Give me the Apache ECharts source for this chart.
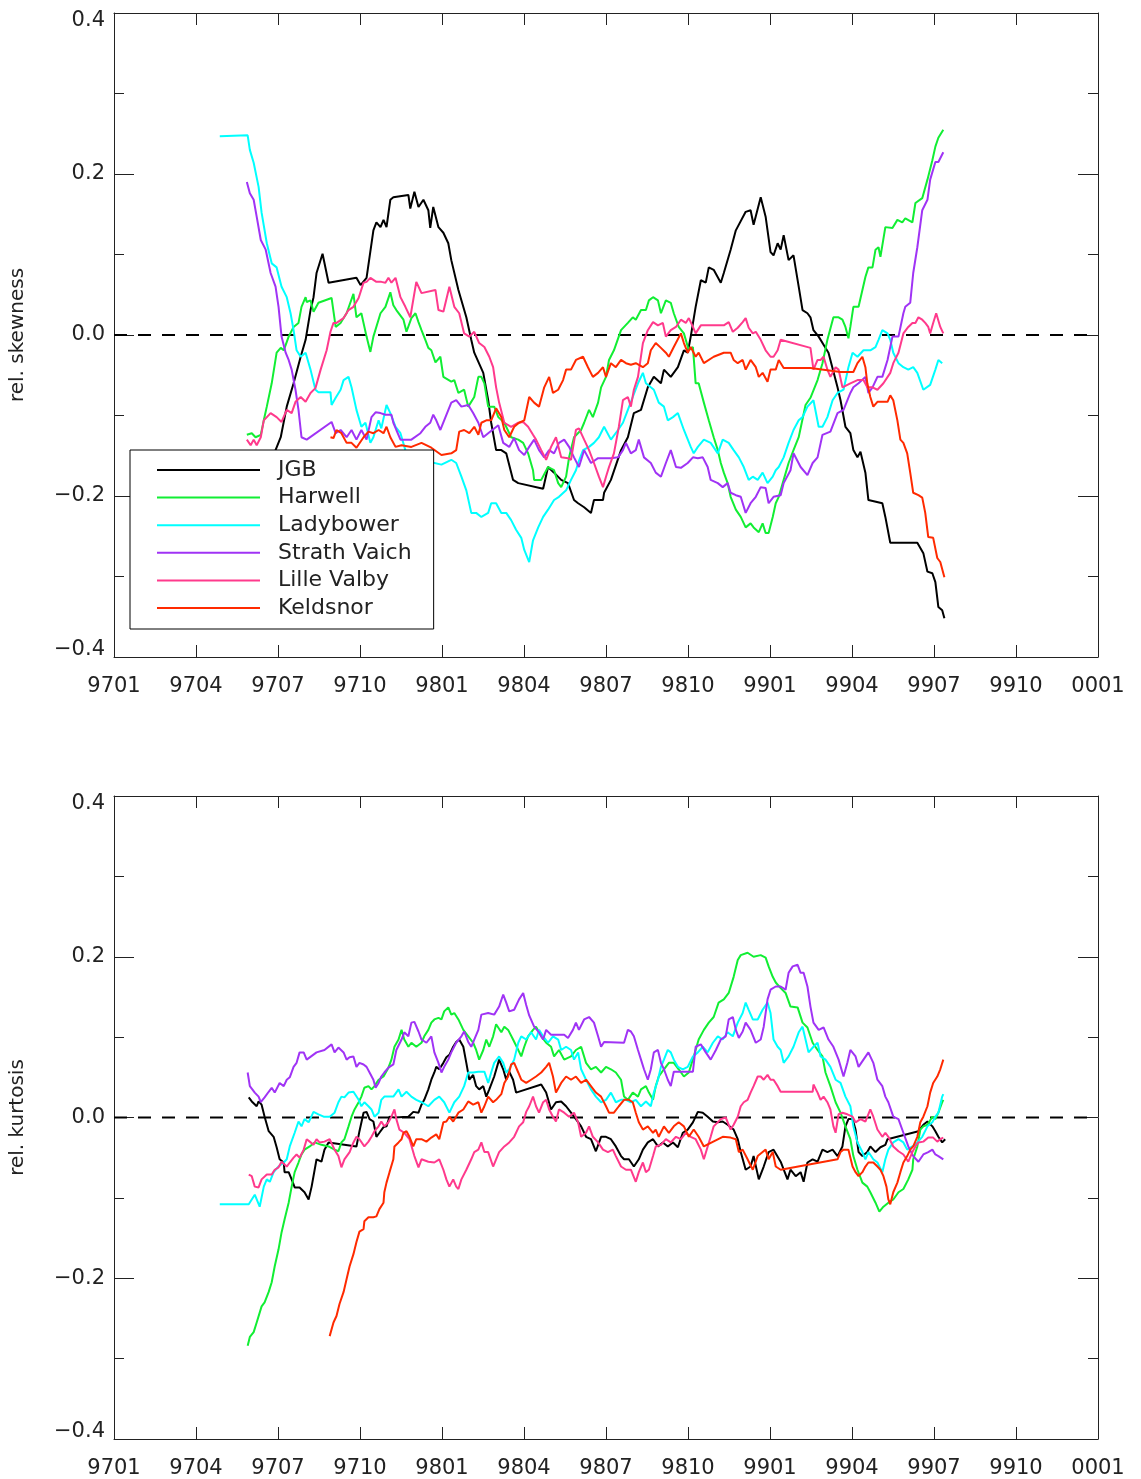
<!DOCTYPE html>
<html>
<head>
<meta charset="utf-8">
<script src="https://cdn.jsdelivr.net/npm/echarts@6/dist/echarts.min.js"></script>
<style>
html,body{margin:0;padding:0;background:#fff;}
#chart{width:1141px;height:1479px;}
</style>
</head>
<body>
<div id="chart"></div>
<script>
// ---- tick labels / names ----
const xTickLabels = ['9701','9704','9707','9710','9801','9804','9807','9810','9901','9904','9907','9910','0001'];
const seriesNames = ['JGB','Harwell','Ladybower','Strath Vaich','Lille Valby','Keldsnor'];
const seriesColors = ['#000000','#11ee33','#00ffff','#a033f5','#ff3a8c','#ff2a00'];

// ---- data: [months since 9701, value] ----
// top panel: relative skewness
const skewJGB = [[4.89,-0.20],[5.25,-0.215],[5.6,-0.185],[5.91,-0.143],[6.10,-0.127],[6.32,-0.089],[6.57,-0.060],[6.83,-0.027],[7.01,-0.006],[7.19,0.031],[7.30,0.047],[7.41,0.077],[7.63,0.101],[7.85,0.065],[8.87,0.071],[9.02,0.062],[9.24,0.071],[9.49,0.130],[9.60,0.140],[9.75,0.134],[9.86,0.143],[9.97,0.134],[10.11,0.168],[10.22,0.171],[10.77,0.174],[10.84,0.157],[10.99,0.178],[11.14,0.159],[11.32,0.168],[11.50,0.155],[11.57,0.133],[11.68,0.159],[11.87,0.134],[12.05,0.127],[12.23,0.114],[12.34,0.093],[12.60,0.056],[12.89,0.022],[13.07,-0.006],[13.18,-0.022],[13.51,-0.047],[13.69,-0.081],[13.80,-0.109],[13.98,-0.143],[14.17,-0.143],[14.35,-0.147],[14.60,-0.180],[14.79,-0.184],[15.70,-0.191],[15.88,-0.164],[16.10,-0.171],[16.36,-0.180],[16.61,-0.184],[16.83,-0.205],[16.98,-0.209],[17.20,-0.214],[17.45,-0.221],[17.56,-0.205],[17.89,-0.205],[17.93,-0.196],[18.18,-0.180],[18.55,-0.143],[18.80,-0.127],[19.02,-0.097],[19.28,-0.093],[19.53,-0.065],[19.75,-0.052],[20.01,-0.060],[20.12,-0.043],[20.37,-0.052],[20.63,-0.040],[20.85,-0.019],[20.99,-0.022],[21.10,-0.002],[21.28,0.035],[21.47,0.068],[21.65,0.065],[21.76,0.084],[21.94,0.081],[22.20,0.065],[22.31,0.077],[22.56,0.106],[22.75,0.130],[23.11,0.153],[23.29,0.155],[23.40,0.137],[23.66,0.171],[23.84,0.147],[24.02,0.103],[24.13,0.099],[24.28,0.114],[24.39,0.106],[24.50,0.124],[24.68,0.093],[24.86,0.099],[25.05,0.060],[25.19,0.031],[25.37,0.027],[25.48,0.022],[25.59,0.006],[25.78,-0.002],[25.96,-0.012],[26.14,-0.022],[26.47,-0.065],[26.58,-0.081],[26.76,-0.114],[26.94,-0.122],[27.05,-0.143],[27.20,-0.152],[27.31,-0.145],[27.49,-0.171],[27.60,-0.205],[28.11,-0.209],[28.22,-0.226],[28.40,-0.258],[29.39,-0.258],[29.61,-0.271],[29.76,-0.294],[29.94,-0.296],[30.05,-0.307],[30.16,-0.338],[30.30,-0.342],[30.38,-0.352]];
const skewHarwell = [[4.86,-0.124],[5.04,-0.122],[5.18,-0.127],[5.37,-0.124],[5.48,-0.106],[5.59,-0.089],[5.77,-0.060],[5.95,-0.022],[6.10,-0.016],[6.21,-0.019],[6.39,-0.002],[6.57,0.010],[6.75,0.015],[6.86,0.035],[7.01,0.047],[7.05,0.041],[7.19,0.043],[7.30,0.029],[7.48,0.040],[7.96,0.046],[8.11,0.010],[8.29,0.015],[8.40,0.021],[8.51,0.027],[8.76,0.051],[8.87,0.022],[9.05,0.027],[9.24,-0.002],[9.38,-0.021],[9.49,-0.002],[9.75,0.027],[9.93,0.035],[10.11,0.053],[10.22,0.037],[10.33,0.031],[10.59,0.019],[10.70,0.004],[10.88,0.021],[11.03,0.027],[11.14,0.016],[11.25,0.006],[11.39,-0.006],[11.50,-0.016],[11.61,-0.019],[11.76,-0.034],[11.94,-0.027],[12.05,-0.052],[12.34,-0.058],[12.45,-0.056],[12.60,-0.072],[12.81,-0.068],[12.96,-0.089],[13.18,-0.077],[13.33,-0.052],[13.44,-0.052],[13.55,-0.060],[13.69,-0.089],[13.91,-0.089],[14.06,-0.102],[14.28,-0.109],[14.53,-0.127],[14.79,-0.130],[14.97,-0.134],[15.15,-0.147],[15.33,-0.168],[15.37,-0.180],[15.63,-0.180],[15.88,-0.164],[16.10,-0.168],[16.25,-0.184],[16.36,-0.189],[16.54,-0.176],[16.65,-0.152],[16.83,-0.127],[17.09,-0.118],[17.20,-0.109],[17.38,-0.093],[17.52,-0.102],[17.71,-0.084],[17.82,-0.065],[18.00,-0.052],[18.11,-0.031],[18.29,-0.019],[18.55,0.006],[18.80,0.015],[18.98,0.022],[19.09,0.019],[19.28,0.031],[19.46,0.031],[19.57,0.043],[19.72,0.047],[19.90,0.043],[20.01,0.027],[20.19,0.043],[20.37,0.040],[20.48,0.027],[20.66,0.010],[20.85,0.002],[21.03,-0.019],[21.18,-0.015],[21.28,-0.060],[21.39,-0.060],[21.58,-0.084],[21.76,-0.106],[21.94,-0.127],[22.09,-0.143],[22.20,-0.159],[22.31,-0.171],[22.45,-0.184],[22.56,-0.201],[22.75,-0.217],[22.93,-0.226],[23.11,-0.239],[23.29,-0.234],[23.40,-0.239],[23.59,-0.245],[23.73,-0.234],[23.84,-0.246],[23.95,-0.246],[24.10,-0.226],[24.21,-0.209],[24.32,-0.201],[24.50,-0.180],[24.68,-0.159],[24.86,-0.143],[25.05,-0.127],[25.30,-0.087],[25.48,-0.078],[25.74,-0.056],[25.92,-0.035],[26.10,-0.006],[26.32,0.022],[26.51,0.022],[26.65,0.019],[26.76,0.010],[26.87,-0.004],[26.94,0.010],[27.05,0.035],[27.24,0.035],[27.49,0.072],[27.60,0.084],[27.75,0.084],[27.86,0.106],[27.97,0.109],[28.04,0.097],[28.22,0.134],[28.48,0.133],[28.66,0.143],[28.84,0.140],[28.95,0.145],[29.21,0.140],[29.32,0.164],[29.57,0.170],[29.76,0.193],[29.94,0.217],[30.05,0.234],[30.16,0.245],[30.34,0.255]];
const skewLadybower = [[3.87,0.247],[4.89,0.248],[4.97,0.230],[5.11,0.214],[5.29,0.184],[5.40,0.152],[5.59,0.114],[5.77,0.089],[5.95,0.084],[6.13,0.060],[6.32,0.047],[6.46,0.027],[6.57,0.006],[6.68,-0.019],[6.83,-0.027],[7.01,-0.022],[7.19,-0.043],[7.37,-0.068],[7.48,-0.071],[7.92,-0.071],[7.96,-0.087],[8.11,-0.078],[8.29,-0.068],[8.40,-0.056],[8.58,-0.052],[8.69,-0.065],[8.87,-0.093],[9.05,-0.114],[9.20,-0.109],[9.38,-0.134],[9.49,-0.127],[9.68,-0.106],[9.78,-0.116],[9.97,-0.087],[10.11,-0.097],[10.30,-0.114],[10.48,-0.122],[10.66,-0.143],[10.95,-0.152],[11.25,-0.153],[11.61,-0.158],[11.98,-0.161],[12.34,-0.155],[12.52,-0.159],[12.71,-0.176],[12.89,-0.193],[13.07,-0.221],[13.25,-0.221],[13.44,-0.226],[13.69,-0.221],[13.80,-0.209],[13.98,-0.209],[14.17,-0.221],[14.35,-0.221],[14.53,-0.230],[14.71,-0.242],[14.90,-0.252],[15.01,-0.267],[15.19,-0.282],[15.33,-0.255],[15.52,-0.239],[15.70,-0.226],[15.88,-0.217],[16.10,-0.205],[16.28,-0.201],[16.54,-0.193],[16.72,-0.180],[16.90,-0.168],[16.98,-0.159],[17.16,-0.143],[17.38,-0.139],[17.56,-0.134],[17.74,-0.127],[17.93,-0.114],[18.18,-0.130],[18.44,-0.118],[18.62,-0.109],[18.80,-0.093],[18.98,-0.077],[19.17,-0.060],[19.35,-0.047],[19.46,-0.060],[19.64,-0.065],[19.75,-0.068],[19.93,-0.084],[20.12,-0.089],[20.26,-0.106],[20.45,-0.102],[20.63,-0.097],[20.85,-0.118],[21.10,-0.139],[21.21,-0.147],[21.36,-0.139],[21.58,-0.130],[21.83,-0.134],[22.09,-0.147],[22.27,-0.130],[22.49,-0.134],[22.67,-0.143],[22.86,-0.152],[23.04,-0.164],[23.22,-0.180],[23.37,-0.176],[23.55,-0.180],[23.73,-0.171],[23.91,-0.184],[24.10,-0.176],[24.21,-0.168],[24.32,-0.164],[24.50,-0.152],[24.68,-0.134],[24.86,-0.118],[25.05,-0.106],[25.19,-0.102],[25.37,-0.089],[25.59,-0.081],[25.78,-0.114],[25.92,-0.114],[26.10,-0.102],[26.29,-0.081],[26.47,-0.072],[26.69,-0.068],[26.87,-0.040],[27.02,-0.022],[27.20,-0.027],[27.42,-0.019],[27.67,-0.019],[27.86,-0.015],[27.97,-0.006],[28.11,0.006],[28.30,0.002],[28.40,-0.006],[28.51,-0.022],[28.70,-0.035],[28.88,-0.040],[29.06,-0.043],[29.24,-0.040],[29.39,-0.047],[29.61,-0.068],[29.86,-0.062],[30.05,-0.043],[30.16,-0.031],[30.30,-0.035]];
const skewStrathVaich = [[4.86,0.190],[4.97,0.176],[5.11,0.168],[5.22,0.147],[5.37,0.118],[5.55,0.106],[5.73,0.077],[5.91,0.060],[6.02,0.035],[6.13,-0.002],[6.28,-0.022],[6.39,-0.031],[6.50,-0.043],[6.64,-0.068],[6.75,-0.093],[6.86,-0.127],[7.05,-0.130],[7.96,-0.108],[8.11,-0.122],[8.29,-0.118],[8.51,-0.127],[8.69,-0.118],[8.87,-0.130],[9.05,-0.118],[9.24,-0.130],[9.42,-0.102],[9.57,-0.096],[9.75,-0.097],[9.93,-0.099],[10.15,-0.099],[10.22,-0.109],[10.33,-0.118],[10.48,-0.130],[10.88,-0.130],[11.21,-0.122],[11.39,-0.114],[11.57,-0.109],[11.68,-0.099],[11.79,-0.106],[11.94,-0.118],[12.34,-0.084],[12.52,-0.081],[12.71,-0.089],[12.96,-0.087],[13.14,-0.097],[13.33,-0.109],[13.51,-0.127],[13.69,-0.122],[14.06,-0.112],[14.24,-0.134],[14.46,-0.139],[14.64,-0.128],[14.82,-0.143],[15.01,-0.149],[15.19,-0.139],[15.37,-0.130],[15.55,-0.143],[15.74,-0.152],[15.92,-0.143],[16.10,-0.147],[16.28,-0.134],[16.47,-0.130],[16.65,-0.139],[16.83,-0.152],[17.01,-0.164],[17.20,-0.143],[17.45,-0.159],[17.71,-0.153],[18.18,-0.153],[18.44,-0.152],[18.62,-0.143],[18.73,-0.134],[18.91,-0.147],[19.09,-0.143],[19.20,-0.130],[19.39,-0.152],[19.64,-0.159],[19.82,-0.171],[20.01,-0.176],[20.19,-0.159],[20.37,-0.143],[20.56,-0.164],[20.74,-0.165],[20.99,-0.159],[21.18,-0.152],[21.36,-0.153],[21.54,-0.152],[21.72,-0.164],[21.83,-0.180],[22.09,-0.184],[22.27,-0.189],[22.45,-0.184],[22.56,-0.196],[22.75,-0.199],[22.93,-0.201],[23.11,-0.221],[23.29,-0.209],[23.48,-0.201],[23.66,-0.189],[23.84,-0.190],[23.95,-0.209],[24.13,-0.201],[24.39,-0.199],[24.50,-0.184],[24.75,-0.168],[24.86,-0.147],[25.12,-0.164],[25.37,-0.174],[25.56,-0.159],[25.74,-0.152],[25.92,-0.124],[26.21,-0.120],[26.47,-0.097],[26.69,-0.093],[26.94,-0.072],[27.05,-0.065],[27.24,-0.060],[27.49,-0.052],[27.60,-0.072],[27.75,-0.065],[27.93,-0.052],[28.11,-0.052],[28.30,-0.031],[28.48,-0.002],[28.70,-0.002],[28.88,0.027],[28.95,0.035],[29.13,0.040],[29.24,0.077],[29.39,0.109],[29.57,0.155],[29.76,0.168],[29.86,0.193],[30.05,0.215],[30.16,0.215],[30.34,0.227]];
const skewLilleValby = [[4.86,-0.130],[5.00,-0.137],[5.11,-0.130],[5.22,-0.137],[5.37,-0.127],[5.48,-0.106],[5.73,-0.097],[5.95,-0.102],[6.13,-0.108],[6.32,-0.093],[6.50,-0.097],[6.64,-0.083],[6.83,-0.077],[7.01,-0.083],[7.19,-0.072],[7.37,-0.066],[7.56,-0.043],[7.78,-0.019],[7.92,0.004],[8.03,0.015],[8.14,0.015],[8.40,0.021],[8.58,0.031],[8.76,0.035],[8.95,0.046],[9.13,0.065],[9.24,0.066],[9.38,0.071],[9.60,0.066],[9.78,0.066],[9.93,0.065],[10.04,0.071],[10.15,0.065],[10.30,0.071],[10.48,0.047],[10.66,0.035],[10.84,0.022],[11.06,0.066],[11.25,0.052],[11.76,0.056],[11.87,0.031],[12.05,0.029],[12.27,0.060],[12.45,0.035],[12.63,0.027],[12.81,0.002],[13.00,-0.002],[13.18,0.004],[13.36,-0.010],[13.55,-0.015],[13.73,-0.027],[13.87,-0.040],[13.98,-0.065],[14.09,-0.084],[14.28,-0.109],[14.53,-0.114],[14.79,-0.109],[14.97,-0.108],[15.15,-0.114],[15.33,-0.124],[15.44,-0.130],[15.63,-0.143],[15.81,-0.155],[15.99,-0.139],[16.17,-0.127],[16.36,-0.152],[16.61,-0.153],[16.72,-0.155],[16.90,-0.118],[17.01,-0.116],[17.20,-0.130],[17.38,-0.143],[17.56,-0.159],[17.74,-0.176],[17.89,-0.189],[18.00,-0.176],[18.11,-0.164],[18.29,-0.147],[18.47,-0.114],[18.62,-0.081],[18.80,-0.077],[18.91,-0.089],[19.02,-0.068],[19.17,-0.052],[19.35,-0.010],[19.53,0.006],[19.72,0.016],[19.90,0.012],[20.08,0.015],[20.19,-0.002],[20.37,0.006],[20.56,0.010],[20.74,0.019],[20.92,0.015],[21.03,0.021],[21.18,0.010],[21.28,0.002],[21.47,0.012],[22.09,0.012],[22.31,0.012],[22.49,0.016],[22.64,0.004],[22.82,0.009],[23.00,0.016],[23.11,0.021],[23.22,0.009],[23.37,0.002],[23.48,0.004],[23.66,-0.006],[23.84,-0.019],[24.02,-0.027],[24.13,-0.027],[24.28,-0.019],[24.39,-0.006],[25.48,-0.016],[25.59,-0.043],[25.74,-0.031],[25.85,-0.031],[25.96,-0.027],[26.10,-0.043],[26.21,-0.052],[26.40,-0.040],[26.51,-0.043],[26.65,-0.065],[26.94,-0.060],[27.20,-0.056],[27.42,-0.056],[27.56,-0.065],[27.75,-0.065],[27.93,-0.068],[28.15,-0.060],[28.40,-0.047],[28.51,-0.035],[28.70,-0.022],[28.88,0.002],[29.06,0.010],[29.21,0.015],[29.32,0.015],[29.43,0.022],[29.57,0.019],[29.68,0.015],[29.79,0.010],[29.86,0.002],[29.97,0.015],[30.08,0.027],[30.23,0.010],[30.34,0.002]];
const skewKeldsnor = [[7.92,-0.127],[8.03,-0.128],[8.14,-0.118],[8.32,-0.122],[8.51,-0.134],[8.69,-0.134],[8.87,-0.140],[9.13,-0.127],[9.31,-0.120],[9.49,-0.122],[9.68,-0.118],[9.86,-0.122],[9.97,-0.114],[10.11,-0.127],[10.30,-0.139],[10.52,-0.137],[10.88,-0.139],[11.25,-0.134],[11.61,-0.140],[11.98,-0.149],[12.34,-0.147],[12.52,-0.143],[12.63,-0.120],[12.81,-0.118],[13.00,-0.122],[13.18,-0.114],[13.33,-0.124],[13.44,-0.109],[13.62,-0.106],[13.80,-0.106],[13.98,-0.091],[14.17,-0.102],[14.28,-0.118],[14.46,-0.127],[14.64,-0.114],[14.82,-0.109],[15.01,-0.106],[15.19,-0.077],[15.37,-0.084],[15.55,-0.089],[15.74,-0.065],[15.92,-0.052],[16.06,-0.072],[16.25,-0.068],[16.43,-0.056],[16.54,-0.043],[16.72,-0.043],[16.90,-0.031],[17.16,-0.027],[17.34,-0.040],[17.52,-0.052],[17.71,-0.047],[17.89,-0.040],[18.00,-0.052],[18.18,-0.035],[18.36,-0.040],[18.55,-0.031],[18.73,-0.035],[18.91,-0.037],[19.09,-0.035],[19.35,-0.040],[19.53,-0.035],[19.64,-0.019],[19.82,-0.010],[20.01,-0.016],[20.19,-0.022],[20.30,-0.027],[20.48,-0.015],[20.74,0.002],[20.85,-0.010],[20.99,-0.022],[21.10,-0.015],[21.28,-0.027],[21.39,-0.022],[21.58,-0.035],[21.94,-0.027],[22.31,-0.022],[22.56,-0.022],[22.67,-0.031],[22.82,-0.035],[23.00,-0.031],[23.11,-0.043],[23.29,-0.031],[23.48,-0.040],[23.59,-0.052],[23.73,-0.047],[23.91,-0.058],[24.02,-0.043],[24.21,-0.043],[24.32,-0.031],[24.50,-0.041],[25.48,-0.041],[26.58,-0.046],[27.05,-0.046],[27.20,-0.035],[27.38,-0.027],[27.49,-0.040],[27.56,-0.060],[27.67,-0.077],[27.78,-0.089],[27.93,-0.083],[28.30,-0.083],[28.40,-0.075],[28.51,-0.081],[28.66,-0.106],[28.77,-0.130],[28.88,-0.134],[29.02,-0.147],[29.13,-0.171],[29.24,-0.196],[29.43,-0.199],[29.57,-0.202],[29.68,-0.221],[29.79,-0.251],[29.97,-0.252],[30.12,-0.277],[30.23,-0.282],[30.38,-0.301]];

// bottom panel: relative kurtosis
const kurtJGB = [[4.93,0.025],[5.04,0.020],[5.22,0.014],[5.29,0.020],[5.40,0.016],[5.51,0.001],[5.66,-0.017],[5.84,-0.024],[5.95,-0.037],[6.06,-0.052],[6.21,-0.056],[6.24,-0.068],[6.39,-0.068],[6.50,-0.077],[6.61,-0.087],[6.79,-0.087],[6.97,-0.093],[7.12,-0.102],[7.23,-0.086],[7.41,-0.052],[7.59,-0.055],[7.70,-0.040],[7.85,-0.031],[8.87,-0.036],[8.98,-0.017],[9.13,0.006],[9.24,0.007],[9.35,-0.002],[9.49,-0.005],[9.60,-0.024],[9.71,-0.019],[9.86,-0.012],[9.97,-0.011],[10.08,0.001],[10.26,0.000],[10.77,0.001],[10.95,0.007],[11.14,0.006],[11.25,0.016],[11.35,0.022],[11.50,0.035],[11.61,0.047],[11.72,0.056],[11.79,0.063],[11.90,0.060],[12.05,0.068],[12.16,0.075],[12.27,0.078],[12.41,0.088],[12.52,0.094],[12.63,0.097],[12.78,0.088],[12.89,0.068],[13.00,0.047],[13.14,0.053],[13.25,0.039],[13.36,0.035],[13.51,0.039],[13.62,0.026],[13.73,0.035],[13.91,0.051],[14.09,0.072],[14.24,0.060],[14.35,0.047],[14.46,0.057],[14.60,0.047],[14.71,0.031],[15.63,0.041],[15.81,0.031],[15.99,0.010],[16.17,0.019],[16.36,0.020],[16.54,0.014],[16.72,0.006],[16.90,-0.002],[17.09,-0.011],[17.27,-0.024],[17.45,-0.027],[17.63,-0.042],[17.82,-0.024],[18.00,-0.024],[18.18,-0.027],[18.36,-0.036],[18.55,-0.048],[18.66,-0.052],[18.84,-0.052],[19.02,-0.061],[19.20,-0.052],[19.35,-0.040],[19.53,-0.031],[19.72,-0.027],[19.90,-0.036],[20.08,-0.031],[20.26,-0.036],[20.45,-0.031],[20.63,-0.037],[20.81,-0.019],[20.99,-0.015],[21.18,-0.006],[21.36,0.007],[21.54,0.006],[21.72,0.001],[21.91,-0.005],[22.09,-0.006],[22.27,-0.005],[22.45,-0.009],[22.67,-0.015],[22.82,-0.027],[22.93,-0.043],[23.11,-0.065],[23.29,-0.061],[23.40,-0.048],[23.59,-0.077],[23.77,-0.061],[23.95,-0.043],[24.13,-0.040],[24.39,-0.055],[24.64,-0.077],[24.75,-0.065],[24.94,-0.073],[25.12,-0.068],[25.23,-0.080],[25.37,-0.056],[25.56,-0.052],[25.74,-0.055],[25.92,-0.040],[26.10,-0.043],[26.29,-0.040],[26.47,-0.048],[26.65,-0.036],[26.76,-0.011],[26.87,-0.002],[27.02,-0.002],[27.13,-0.015],[27.24,-0.043],[27.38,-0.048],[27.56,-0.043],[27.67,-0.036],[27.86,-0.043],[28.04,-0.037],[28.22,-0.034],[28.30,-0.027],[29.43,-0.017],[29.61,-0.009],[29.76,-0.005],[29.94,-0.011],[30.05,-0.017],[30.16,-0.024],[30.30,-0.031],[30.41,-0.027]];
const kurtHarwell = [[4.89,-0.284],[4.97,-0.273],[5.11,-0.267],[5.22,-0.255],[5.40,-0.235],[5.51,-0.230],[5.66,-0.217],[5.77,-0.205],[5.88,-0.185],[6.02,-0.164],[6.13,-0.143],[6.24,-0.127],[6.39,-0.106],[6.50,-0.086],[6.61,-0.068],[6.75,-0.056],[6.86,-0.046],[6.97,-0.040],[7.16,-0.036],[7.34,-0.031],[7.59,-0.034],[7.85,-0.036],[8.07,-0.040],[8.21,-0.042],[8.32,-0.031],[8.43,-0.027],[8.58,-0.011],[8.69,0.001],[8.80,0.010],[8.95,0.019],[9.05,0.026],[9.16,0.037],[9.31,0.039],[9.42,0.035],[9.53,0.039],[9.68,0.047],[9.86,0.051],[10.04,0.062],[10.15,0.072],[10.26,0.088],[10.41,0.097],[10.52,0.109],[10.62,0.097],[10.77,0.088],[10.88,0.093],[11.06,0.088],[11.25,0.093],[11.35,0.101],[11.50,0.109],[11.61,0.118],[11.72,0.122],[11.87,0.124],[11.98,0.122],[12.08,0.132],[12.23,0.137],[12.34,0.128],[12.45,0.130],[12.60,0.122],[12.78,0.109],[12.96,0.101],[13.14,0.093],[13.25,0.084],[13.36,0.072],[13.51,0.084],[13.62,0.097],[13.73,0.088],[13.87,0.101],[13.98,0.116],[14.17,0.106],[14.28,0.113],[14.42,0.109],[14.60,0.097],[14.79,0.084],[14.90,0.076],[15.01,0.088],[15.15,0.101],[15.33,0.109],[15.44,0.113],[15.63,0.101],[15.81,0.093],[15.99,0.088],[16.10,0.076],[16.28,0.084],[16.47,0.072],[16.72,0.076],[16.90,0.084],[17.09,0.088],[17.27,0.068],[17.45,0.060],[17.63,0.063],[17.82,0.056],[18.00,0.063],[18.18,0.060],[18.36,0.056],[18.55,0.047],[18.66,0.026],[18.80,0.022],[18.98,0.031],[19.17,0.026],[19.28,0.035],[19.46,0.039],[19.57,0.031],[19.72,0.022],[19.82,0.039],[19.93,0.051],[20.12,0.060],[20.30,0.068],[20.48,0.068],[20.66,0.060],[20.85,0.051],[21.03,0.056],[21.21,0.076],[21.39,0.097],[21.58,0.109],[21.76,0.118],[21.94,0.125],[22.12,0.143],[22.31,0.147],[22.49,0.155],[22.67,0.175],[22.82,0.196],[22.93,0.202],[23.18,0.205],[23.40,0.200],[23.66,0.202],[23.84,0.199],[23.95,0.188],[24.10,0.175],[24.21,0.168],[24.39,0.161],[24.57,0.155],[24.75,0.138],[25.01,0.137],[25.19,0.118],[25.37,0.112],[25.56,0.093],[25.74,0.084],[25.92,0.076],[26.03,0.056],[26.21,0.039],[26.40,0.019],[26.58,0.006],[26.76,-0.011],[26.94,-0.027],[27.05,-0.048],[27.20,-0.065],[27.38,-0.081],[27.56,-0.086],[27.67,-0.093],[27.86,-0.106],[28.00,-0.117],[28.15,-0.111],[28.33,-0.106],[28.51,-0.102],[28.70,-0.093],[28.88,-0.089],[29.06,-0.077],[29.21,-0.065],[29.24,-0.052],[29.39,-0.036],[29.50,-0.015],[29.61,-0.011],[29.76,-0.009],[29.94,0.001],[30.05,-0.002],[30.16,0.006],[30.30,0.019],[30.34,0.022]];
const kurtLadybower = [[3.87,-0.108],[4.93,-0.108],[5.04,-0.102],[5.15,-0.096],[5.33,-0.111],[5.48,-0.086],[5.59,-0.077],[5.70,-0.080],[5.84,-0.068],[6.02,-0.061],[6.21,-0.056],[6.32,-0.052],[6.43,-0.036],[6.61,-0.019],[6.75,-0.005],[6.86,-0.011],[6.97,-0.002],[7.12,-0.006],[7.30,0.007],[7.48,0.004],[7.67,0.001],[7.89,0.001],[8.07,0.006],[8.21,0.019],[8.32,0.026],[8.43,0.025],[8.58,0.031],[8.76,0.032],[8.95,0.022],[9.05,0.014],[9.16,0.019],[9.31,0.014],[9.42,0.010],[9.53,0.001],[9.68,0.006],[9.78,0.022],[9.89,0.026],[10.04,0.026],[10.22,0.026],[10.41,0.035],[10.52,0.026],[10.70,0.032],[10.88,0.026],[11.06,0.022],[11.25,0.019],[11.50,0.014],[11.72,0.022],[11.90,0.026],[12.08,0.019],[12.27,0.006],[12.45,0.019],[12.63,0.026],[12.81,0.039],[12.96,0.056],[13.14,0.056],[13.33,0.057],[13.55,0.057],[13.69,0.043],[13.80,0.056],[13.91,0.068],[14.09,0.076],[14.24,0.068],[14.35,0.056],[14.46,0.060],[14.64,0.072],[14.79,0.093],[14.90,0.101],[15.08,0.097],[15.26,0.106],[15.44,0.097],[15.55,0.109],[15.70,0.101],[15.88,0.093],[16.06,0.101],[16.25,0.097],[16.36,0.084],[16.54,0.088],[16.72,0.084],[16.83,0.072],[16.98,0.081],[17.09,0.060],[17.27,0.047],[17.45,0.035],[17.63,0.026],[17.82,0.019],[18.00,0.022],[18.18,0.031],[18.36,0.019],[18.55,0.022],[18.73,0.022],[18.91,0.019],[19.09,0.022],[19.28,0.014],[19.46,0.020],[19.64,0.014],[19.75,0.031],[19.90,0.047],[20.01,0.063],[20.12,0.072],[20.26,0.084],[20.37,0.081],[20.48,0.072],[20.63,0.063],[20.81,0.060],[20.99,0.063],[21.18,0.076],[21.36,0.081],[21.54,0.088],[21.72,0.081],[21.91,0.093],[22.09,0.101],[22.27,0.097],[22.45,0.106],[22.64,0.101],[22.82,0.118],[23.00,0.130],[23.11,0.143],[23.22,0.134],[23.37,0.122],[23.55,0.122],[23.73,0.134],[23.91,0.143],[24.02,0.130],[24.13,0.097],[24.28,0.088],[24.39,0.084],[24.50,0.068],[24.68,0.076],[24.86,0.088],[25.05,0.106],[25.19,0.113],[25.30,0.097],[25.41,0.081],[25.59,0.088],[25.74,0.093],[25.85,0.076],[26.03,0.072],[26.21,0.063],[26.40,0.047],[26.58,0.043],[26.76,0.026],[26.94,0.014],[27.05,-0.011],[27.20,-0.031],[27.38,-0.043],[27.49,-0.052],[27.60,-0.043],[27.78,-0.052],[27.93,-0.056],[28.11,-0.068],[28.22,-0.052],[28.33,-0.040],[28.51,-0.031],[28.70,-0.027],[28.88,-0.031],[29.02,-0.040],[29.21,-0.036],[29.39,-0.031],[29.57,-0.024],[29.76,-0.011],[29.94,-0.006],[30.05,0.001],[30.16,0.006],[30.30,0.026],[30.34,0.029]];
const kurtStrathVaich = [[4.89,0.056],[4.97,0.039],[5.15,0.031],[5.29,0.026],[5.37,0.019],[5.51,0.025],[5.66,0.032],[5.77,0.037],[5.88,0.031],[6.06,0.043],[6.21,0.039],[6.32,0.047],[6.43,0.050],[6.57,0.063],[6.68,0.068],[6.79,0.081],[6.94,0.081],[7.05,0.072],[7.41,0.081],[7.70,0.084],[7.96,0.091],[8.07,0.081],[8.21,0.087],[8.40,0.081],[8.51,0.072],[8.62,0.075],[8.76,0.076],[8.87,0.063],[8.98,0.068],[9.13,0.066],[9.24,0.063],[9.35,0.056],[9.49,0.047],[9.57,0.037],[9.68,0.043],[9.78,0.051],[9.89,0.056],[10.04,0.062],[10.22,0.066],[10.33,0.084],[10.52,0.097],[10.62,0.106],[10.77,0.101],[10.88,0.118],[10.99,0.119],[11.14,0.107],[11.25,0.097],[11.43,0.093],[11.61,0.101],[11.72,0.081],[11.87,0.068],[11.98,0.056],[12.08,0.063],[12.23,0.072],[12.34,0.081],[12.52,0.093],[12.71,0.101],[12.81,0.107],[12.96,0.094],[13.07,0.088],[13.18,0.097],[13.33,0.109],[13.44,0.128],[13.69,0.130],[13.91,0.128],[14.09,0.138],[14.24,0.153],[14.35,0.143],[14.46,0.132],[14.64,0.134],[14.82,0.147],[14.97,0.155],[15.08,0.140],[15.19,0.127],[15.37,0.113],[15.55,0.106],[15.70,0.097],[15.81,0.109],[15.99,0.103],[16.25,0.103],[16.47,0.103],[16.61,0.099],[16.79,0.109],[16.90,0.118],[17.01,0.109],[17.20,0.122],[17.38,0.125],[17.56,0.118],[17.71,0.101],[17.82,0.088],[17.93,0.094],[18.66,0.093],[18.80,0.109],[18.91,0.107],[19.02,0.101],[19.17,0.084],[19.28,0.072],[19.39,0.060],[19.53,0.047],[19.64,0.060],[19.75,0.081],[19.90,0.084],[20.01,0.068],[20.12,0.060],[20.26,0.047],[20.37,0.039],[20.48,0.057],[21.18,0.057],[21.28,0.088],[21.47,0.091],[21.65,0.081],[21.83,0.072],[22.02,0.084],[22.20,0.097],[22.38,0.101],[22.49,0.122],[22.64,0.125],[22.75,0.109],[22.86,0.099],[23.00,0.107],[23.11,0.118],[23.29,0.109],[23.48,0.093],[23.66,0.097],[23.77,0.113],[23.91,0.147],[24.02,0.159],[24.21,0.163],[24.39,0.163],[24.57,0.159],[24.68,0.180],[24.83,0.188],[25.01,0.190],[25.12,0.180],[25.23,0.180],[25.37,0.163],[25.48,0.138],[25.59,0.118],[25.78,0.109],[25.96,0.112],[26.14,0.097],[26.32,0.088],[26.51,0.072],[26.69,0.051],[26.83,0.068],[26.94,0.084],[27.13,0.076],[27.24,0.063],[27.42,0.072],[27.60,0.081],[27.78,0.068],[27.93,0.047],[28.11,0.039],[28.22,0.026],[28.33,0.019],[28.51,0.001],[28.70,-0.002],[28.88,-0.019],[29.06,-0.036],[29.24,-0.048],[29.43,-0.055],[29.61,-0.046],[29.79,-0.043],[29.94,-0.040],[30.05,-0.046],[30.16,-0.048],[30.34,-0.052]];
const kurtLilleValby = [[4.93,-0.071],[5.04,-0.073],[5.15,-0.086],[5.29,-0.087],[5.40,-0.077],[5.59,-0.071],[5.77,-0.071],[5.88,-0.065],[6.02,-0.062],[6.13,-0.055],[6.32,-0.061],[6.43,-0.056],[6.57,-0.050],[6.68,-0.046],[6.79,-0.050],[6.94,-0.040],[7.05,-0.027],[7.16,-0.030],[7.30,-0.034],[7.41,-0.027],[7.52,-0.031],[7.70,-0.030],[7.89,-0.027],[8.07,-0.040],[8.21,-0.048],[8.32,-0.062],[8.43,-0.052],[8.62,-0.043],[8.76,-0.031],[8.87,-0.024],[8.98,-0.027],[9.16,-0.036],[9.31,-0.030],[9.42,-0.024],[9.53,-0.017],[9.68,-0.011],[9.78,-0.005],[9.89,-0.011],[10.04,-0.006],[10.15,0.001],[10.26,0.010],[10.33,-0.002],[10.44,-0.015],[10.62,-0.019],[10.81,-0.027],[10.99,-0.048],[11.14,-0.062],[11.25,-0.052],[11.50,-0.055],[11.72,-0.056],[11.90,-0.052],[12.05,-0.065],[12.16,-0.077],[12.27,-0.086],[12.41,-0.077],[12.52,-0.086],[12.60,-0.089],[12.71,-0.077],[12.89,-0.065],[13.07,-0.052],[13.18,-0.043],[13.33,-0.040],[13.44,-0.031],[13.55,-0.043],[13.69,-0.043],[13.87,-0.061],[13.98,-0.052],[14.09,-0.043],[14.28,-0.036],[14.46,-0.031],[14.64,-0.024],[14.82,-0.011],[14.97,-0.006],[15.08,0.007],[15.19,0.014],[15.33,0.026],[15.44,0.014],[15.55,0.006],[15.70,0.019],[15.81,0.022],[15.92,0.010],[16.06,0.001],[16.17,-0.005],[16.28,0.010],[16.47,0.006],[16.65,0.001],[16.83,0.006],[16.98,-0.006],[17.09,-0.024],[17.27,-0.019],[17.38,-0.011],[17.52,-0.024],[17.71,-0.031],[17.89,-0.040],[18.07,-0.043],[18.25,-0.040],[18.36,-0.048],[18.55,-0.061],[18.73,-0.065],[18.91,-0.065],[19.09,-0.080],[19.20,-0.068],[19.35,-0.056],[19.46,-0.068],[19.57,-0.065],[19.72,-0.048],[19.82,-0.036],[20.01,-0.034],[20.19,-0.027],[20.37,-0.031],[20.56,-0.024],[20.74,-0.027],[20.92,-0.019],[21.10,-0.024],[21.28,-0.027],[21.47,-0.040],[21.58,-0.052],[21.72,-0.036],[21.83,-0.024],[21.94,-0.011],[22.20,-0.002],[22.38,0.000],[22.56,-0.015],[22.67,-0.009],[22.82,0.001],[22.93,0.014],[23.04,0.019],[23.18,0.022],[23.29,0.031],[23.40,0.039],[23.55,0.051],[23.66,0.051],[23.77,0.047],[23.91,0.053],[24.02,0.047],[24.13,0.047],[24.28,0.039],[24.39,0.032],[25.56,0.032],[25.59,0.041],[25.74,0.031],[25.85,0.022],[25.96,0.026],[26.10,0.019],[26.21,0.010],[26.32,-0.011],[26.40,-0.019],[26.51,0.004],[26.65,0.006],[26.83,0.004],[27.02,0.001],[27.13,-0.006],[27.31,-0.002],[27.49,-0.005],[27.67,0.010],[27.78,0.001],[27.93,-0.015],[28.11,-0.024],[28.22,-0.019],[28.33,-0.024],[28.51,-0.036],[28.70,-0.042],[28.88,-0.046],[29.06,-0.055],[29.21,-0.043],[29.32,-0.036],[29.43,-0.031],[29.61,-0.030],[29.79,-0.025],[29.97,-0.025],[30.12,-0.030],[30.23,-0.027],[30.34,-0.025]];
const kurtKeldsnor = [[7.89,-0.272],[8.03,-0.255],[8.14,-0.247],[8.25,-0.232],[8.40,-0.217],[8.51,-0.201],[8.62,-0.185],[8.76,-0.170],[8.87,-0.155],[8.98,-0.142],[9.13,-0.139],[9.16,-0.129],[9.31,-0.124],[9.49,-0.124],[9.60,-0.123],[9.71,-0.114],[9.86,-0.106],[9.89,-0.093],[9.97,-0.081],[10.08,-0.068],[10.22,-0.052],[10.26,-0.036],[10.41,-0.031],[10.52,-0.027],[10.59,-0.019],[10.70,-0.017],[10.81,-0.024],[10.95,-0.036],[11.06,-0.027],[11.25,-0.027],[11.43,-0.030],[11.61,-0.025],[11.79,-0.021],[11.90,-0.027],[12.05,-0.006],[12.16,-0.005],[12.27,0.001],[12.41,-0.005],[12.60,0.006],[12.78,0.010],[12.96,0.020],[13.14,0.016],[13.33,0.019],[13.44,0.006],[13.55,0.014],[13.69,0.026],[13.87,0.019],[13.98,0.022],[14.17,0.029],[14.28,0.043],[14.42,0.051],[14.53,0.066],[14.64,0.068],[14.79,0.056],[14.90,0.047],[15.08,0.043],[15.26,0.047],[15.44,0.051],[15.63,0.056],[15.81,0.063],[15.92,0.068],[16.06,0.051],[16.17,0.031],[16.36,0.043],[16.54,0.051],[16.72,0.047],[16.90,0.051],[17.09,0.043],[17.27,0.047],[17.45,0.039],[17.63,0.031],[17.82,0.026],[18.00,0.014],[18.11,0.006],[18.29,0.006],[18.47,0.014],[18.66,0.022],[18.84,0.022],[18.98,0.019],[19.09,0.006],[19.20,-0.006],[19.35,-0.015],[19.53,-0.011],[19.72,-0.019],[19.82,-0.015],[19.93,-0.024],[20.12,-0.011],[20.30,-0.019],[20.48,-0.011],[20.66,-0.006],[20.85,-0.011],[21.03,-0.024],[21.21,-0.015],[21.39,-0.024],[21.58,-0.036],[22.27,-0.024],[22.56,-0.025],[22.75,-0.027],[22.86,-0.043],[23.00,-0.040],[23.18,-0.052],[23.37,-0.065],[23.55,-0.048],[23.73,-0.043],[23.84,-0.040],[23.95,-0.052],[24.10,-0.043],[24.21,-0.061],[24.39,-0.065],[26.47,-0.052],[26.58,-0.043],[26.69,-0.040],[26.87,-0.040],[27.02,-0.061],[27.13,-0.068],[27.24,-0.073],[27.38,-0.068],[27.49,-0.061],[27.60,-0.056],[27.78,-0.056],[27.93,-0.061],[28.04,-0.065],[28.15,-0.073],[28.26,-0.086],[28.33,-0.102],[28.40,-0.108],[28.51,-0.093],[28.66,-0.081],[28.77,-0.068],[28.88,-0.056],[29.02,-0.048],[29.13,-0.040],[29.24,-0.036],[29.39,-0.024],[29.50,-0.006],[29.61,0.001],[29.76,0.014],[29.86,0.031],[29.97,0.043],[30.12,0.051],[30.23,0.060],[30.34,0.072]];

const topData = [skewJGB, skewHarwell, skewLadybower, skewStrathVaich, skewLilleValby, skewKeldsnor];
const bottomData = [kurtJGB, kurtHarwell, kurtLadybower, kurtStrathVaich, kurtLilleValby, kurtKeldsnor];
const zeroLine = [[0,0],[36,0]];

// ---- chart ----
const FONT = 'DejaVu Sans';
const AX = '#222';
function yFmt(v){
  let s = Math.abs(v) < 1e-9 ? '0.0' : v.toFixed(1);
  s = s.replace('-', '\u2212');
  if (v > 0.39) return '{mx|' + s + '}';
  if (v < -0.39) return '{mn|' + s + '}';
  return s;
}
const richY = {
  mx:{fontSize:21,fontFamily:FONT,color:AX,padding:[15,0,0,0]},
  mn:{fontSize:21,fontFamily:FONT,color:AX,padding:[0,0,15,0]}
};
function xAxisDef(grid, pos, labels){
  return {
    type:'value', gridIndex:grid, position:pos, min:0, max:36, interval:3,
    axisLine:{show:true, onZero:false, lineStyle:{color:AX,width:1}},
    axisTick:{show:true, inside:true, length:12, lineStyle:{color:AX,width:1}},
    axisLabel:{show:labels, margin:19, fontSize:21, fontFamily:FONT, color:AX,
      formatter:function(v){ return xTickLabels[Math.round(v/3)]; }},
    splitLine:{show:false}
  };
}
function yAxisDef(grid, pos, labels, name){
  return {
    type:'value', gridIndex:grid, position:pos, min:-0.4, max:0.4, interval:0.2,
    name: name || '', nameLocation:'middle', nameGap:86, nameRotate:90,
    nameTextStyle:{fontSize:20, fontFamily:FONT, color:AX},
    axisLine:{show:true, onZero:false, lineStyle:{color:AX,width:1}},
    axisTick:{show:true, inside:true, length:20, lineStyle:{color:AX,width:1}},
    minorTick:{show:true, splitNumber:2, length:10, lineStyle:{color:AX,width:1}},
    axisLabel:{show:labels, margin:9, fontSize:21, fontFamily:FONT, color:AX, formatter:yFmt, rich:richY},
    splitLine:{show:false}, minorSplitLine:{show:false}
  };
}

const series = [];
series.push({type:'line', name:'zero0', data:zeroLine, xAxisIndex:0, yAxisIndex:0, symbol:'none', silent:true, z:1,
  lineStyle:{color:'#000', width:2, type:[13,11]}});
series.push({type:'line', name:'zero1', data:zeroLine, xAxisIndex:2, yAxisIndex:2, symbol:'none', silent:true, z:1,
  lineStyle:{color:'#000', width:2, type:[13,11]}});
seriesNames.forEach(function(n,i){
  series.push({type:'line', name:n, data:topData[i], xAxisIndex:0, yAxisIndex:0, symbol:'none', showSymbol:false,
    color:seriesColors[i], lineStyle:{color:seriesColors[i], width:2}, z:2});
});
seriesNames.forEach(function(n,i){
  series.push({type:'line', name:n, data:bottomData[i], xAxisIndex:2, yAxisIndex:2, symbol:'none', showSymbol:false,
    color:seriesColors[i], lineStyle:{color:seriesColors[i], width:2}, z:2});
});

const option = {
  animation:false,
  backgroundColor:'#ffffff',
  grid:[
    {left:112, top:13, width:986, height:644, containLabel:false},
    {left:112, top:796, width:986, height:644, containLabel:false}
  ],
  xAxis:[xAxisDef(0,'bottom',true), xAxisDef(0,'top',false), xAxisDef(1,'bottom',true), xAxisDef(1,'top',false)],
  yAxis:[yAxisDef(0,'left',true,'rel. skewness'), yAxisDef(0,'right',false), yAxisDef(1,'left',true,'rel. kurtosis'), yAxisDef(1,'right',false)],
  legend:{
    data:seriesNames, orient:'vertical', left:130, top:450,
    padding:[9,22,10,27], itemWidth:103, itemHeight:2, itemGap:5.6, icon:'rect',
    backgroundColor:'#ffffff', borderColor:'#000', borderWidth:1, borderRadius:0,
    selectedMode:false,
    textStyle:{fontSize:22, lineHeight:22, fontFamily:FONT, color:AX, padding:[0,0,0,13]}
  },
  series:series
};
const chart = echarts.init(document.getElementById('chart'), null, {renderer:'canvas'});
chart.setOption(option);
</script>
</body>
</html>
